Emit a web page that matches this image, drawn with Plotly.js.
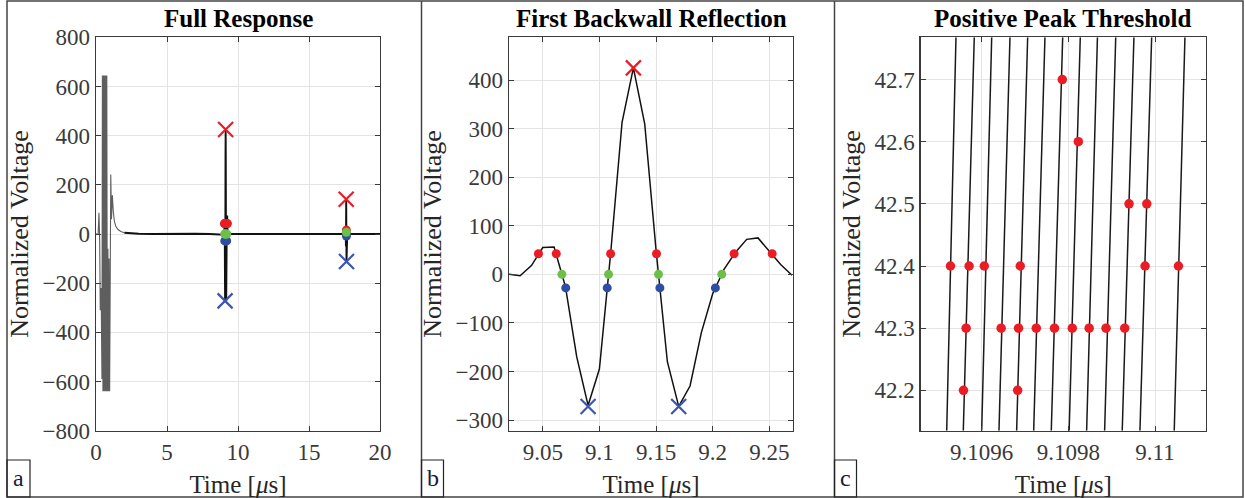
<!DOCTYPE html>
<html><head><meta charset="utf-8">
<script src="https://cdn.plot.ly/plotly-3.0.1.min.js"></script>
<style>html,body{margin:0;padding:0;background:#fff}#chart{width:1245px;height:498px}</style>
</head><body><div id="chart"></div>
<script>
// ================= DATA =================
// Panel a – full response (time in µs, normalized voltage)
const burstTime = [0, 0.15, 0.21, 0.26, 0.3, 0.36, 0.42, 0.45, 0.49, 0.53, 0.57, 0.61, 0.65, 0.69, 0.73, 0.76, 0.8, 0.84, 0.88, 0.92, 0.96, 1.0, 1.04, 1.09, 1.15, 1.22, 1.3, 1.4, 1.55, 1.75, 2.0];
const burstVolt = [0, 0, 86, -30, -310, -220, -590, 645, -640, 645, -640, 645, -640, 645, -640, 645, -640, -60, -640, -100, -640, 10, 242, 60, 158, 90, 50, 30, 18, 10, 5];
const baseline1Time = [2.0, 2.3, 3, 4, 5, 6, 7, 8, 9.02];
const baseline1Volt = [5, 3, 1, 0, 1, 0, 1, 0, 0];
const baseline2Time = [9.27, 9.4, 10, 12, 14, 16, 17.55];
const baseline2Volt = [-2, 0, 0, 0, 0, 0, 0];
const echo2Time = [17.55, 17.58, 17.6, 17.62, 17.64, 17.66, 17.68, 17.7, 17.72, 17.75];
const echo2Volt = [0, 20, -50, 141, -112, 60, -30, 12, -3, 0];
const tailTime = [17.75, 18, 19, 20];
const tailVolt = [0, 0, 0, 0];
// second echo feature points (panel a)
const echo2PeakTime = [17.62], echo2PeakVolt = [141];
const echo2TroughTime = [17.64], echo2TroughVolt = [-112];
const echo2PosThrTime = [17.63], echo2PosThrVolt = [16];
const echo2ZeroTime = [17.63], echo2ZeroVolt = [7];
const echo2NegThrTime = [17.635], echo2NegThrVolt = [-8];

// Panel b – first backwall reflection
const echo1Time = [9.02, 9.03, 9.04, 9.05, 9.06, 9.07, 9.08, 9.09, 9.10, 9.11, 9.12, 9.13, 9.14, 9.15, 9.16, 9.17, 9.18, 9.19, 9.20, 9.21, 9.22, 9.23, 9.24, 9.25, 9.26, 9.27];
const echo1Volt = [0, -3, 18, 55, 56, -25, -170, -270, -195, 45, 313, 425, 310, 50, -180, -272, -230, -120, -40, 10, 45, 72, 75, 48, 20, -2];
const posPeakTime = [9.13], posPeakVolt = [425];
const negPeakTime = [9.09, 9.17], negPeakVolt = [-272, -272];
const posThrTime = [9.0462, 9.0619, 9.1099, 9.1504, 9.2189, 9.2525];
const posThrVolt = [42.4, 42.4, 42.4, 42.4, 42.4, 42.4];
const zeroCrossTime = [9.0669, 9.1081, 9.1522, 9.2080];
const zeroCrossVolt = [0, 0, 0, 0];
const negThrTime = [9.0703, 9.1069, 9.1534, 9.2024];
const negThrVolt = [-28, -28, -28, -28];

// Panel c – positive peak threshold (many rising edges)
const edgeTimeLow  = [9.1095193, 9.1095576, 9.1096, 9.1096399, 9.1096807, 9.10972, 9.1097606, 9.1098018, 9.1098422, 9.1098837, 9.1099243, 9.1099652, 9.1100443];
const edgeTimeHigh = [9.1095407, 9.1095829, 9.1096231, 9.1096653, 9.1097061, 9.109746, 9.1097869, 9.1098275, 9.1098671, 9.1099093, 9.1099513, 9.1099922, 9.110069];
const edgeVoltLow = 42.135, edgeVoltHigh = 42.768;
const thrHitTime = [9.109786, 9.109823, 9.109940, 9.109981,
  9.109528, 9.109571, 9.109606, 9.109689, 9.109977, 9.110054,
  9.109564, 9.109645, 9.109685, 9.109726, 9.109768, 9.109809, 9.109848, 9.109887, 9.109930,
  9.109558, 9.109683];
const thrHitVolt = [42.7, 42.6, 42.5, 42.5,
  42.4, 42.4, 42.4, 42.4, 42.4, 42.4,
  42.3, 42.3, 42.3, 42.3, 42.3, 42.3, 42.3, 42.3, 42.3,
  42.2, 42.2];

// Tick labels
const ticksA_x = [0, 5, 10, 15, 20];
const ticksA_y = [-800, -600, -400, -200, 0, 200, 400, 600, 800];
const ticksB_x = [9.05, 9.1, 9.15, 9.2, 9.25];
const ticksB_xText = ['9.05', '9.1', '9.15', '9.2', '9.25'];
const ticksB_y = [-300, -200, -100, 0, 100, 200, 300, 400];
const ticksC_x = [9.1096, 9.1098, 9.11];
const ticksC_xText = ['9.1096', '9.1098', '9.11'];
const ticksC_y = [42.2, 42.3, 42.4, 42.5, 42.6, 42.7];
const panelTitles = ['Full Response', 'First Backwall Reflection', 'Positive Peak Threshold'];
const panelLetters = ['a', 'b', 'c'];

// ================= STYLE =================
const W = 1245, H = 498;
const px = v => v / W, py = v => 1 - v / H;
const FONT = 'Liberation Serif';
const RED = '#ec1c24', GREEN = '#6cc04a', BLUE = '#2f4ea3', BLUEX = '#3b56b3';

const mainTime = [].concat(baseline1Time, echo1Time, baseline2Time, echo2Time, tailTime);
const mainVolt = [].concat(baseline1Volt, echo1Volt, baseline2Volt, echo2Volt, tailVolt);

const edgeX = [], edgeY = [];
edgeTimeLow.forEach((t, i) => { edgeX.push(t, edgeTimeHigh[i], null); edgeY.push(edgeVoltLow, edgeVoltHigh, null); });

const dot = (x, y, c, xa, ya, s) => ({type: 'scatter', mode: 'markers', x, y, xaxis: xa, yaxis: ya,
  marker: {color: c, size: s || 9, symbol: 'circle'}, showlegend: false});
const cross = (x, y, c, xa, ya) => ({type: 'scatter', mode: 'markers', x, y, xaxis: xa, yaxis: ya,
  marker: {symbol: 'x-thin', size: 15, color: c, line: {color: c, width: 2.2}}, showlegend: false});

const traces = [
  {type: 'scatter', mode: 'lines', x: burstTime, y: burstVolt, xaxis: 'x', yaxis: 'y', line: {color: '#5e5e5e', width: 1.1}, showlegend: false},
  {type: 'scatter', mode: 'lines', x: mainTime, y: mainVolt, xaxis: 'x', yaxis: 'y', line: {color: '#111', width: 1.9}, showlegend: false},
  cross(posPeakTime.concat(echo2PeakTime), posPeakVolt.concat(echo2PeakVolt), RED, 'x', 'y'),
  cross(negPeakTime.slice(0, 1).concat(echo2TroughTime), negPeakVolt.slice(0, 1).concat(echo2TroughVolt), BLUEX, 'x', 'y'),
  dot(posThrTime.concat(echo2PosThrTime), posThrVolt.concat(echo2PosThrVolt), RED, 'x', 'y'),
  dot(negThrTime.concat(echo2NegThrTime), negThrVolt.concat(echo2NegThrVolt), BLUE, 'x', 'y'),
  dot(zeroCrossTime.concat(echo2ZeroTime), zeroCrossVolt.concat(echo2ZeroVolt), GREEN, 'x', 'y'),

  {type: 'scatter', mode: 'lines', x: echo1Time, y: echo1Volt, xaxis: 'x2', yaxis: 'y2', line: {color: '#111', width: 1.5}, showlegend: false},
  dot(posThrTime, posThrVolt, RED, 'x2', 'y2'),
  dot(zeroCrossTime, zeroCrossVolt, GREEN, 'x2', 'y2'),
  dot(negThrTime, negThrVolt, BLUE, 'x2', 'y2'),
  cross(posPeakTime, posPeakVolt, RED, 'x2', 'y2'),
  cross(negPeakTime, negPeakVolt, BLUEX, 'x2', 'y2'),

  {type: 'scatter', mode: 'lines', x: edgeX, y: edgeY, xaxis: 'x3', yaxis: 'y3', line: {color: '#1a1a1a', width: 1.5}, connectgaps: false, showlegend: false},
  dot(thrHitTime, thrHitVolt, RED, 'x3', 'y3', 9.5)
];

const axBase = {
  showline: true, linecolor: '#3a3a3a', linewidth: 1.3, mirror: 'ticks',
  ticks: 'inside', ticklen: 5, tickcolor: '#3a3a3a', tickwidth: 1,
  showgrid: true, gridcolor: '#e4e4e4', gridwidth: 1, zeroline: false,
  tickfont: {family: FONT, size: 23, color: '#3a3a3a'}, automargin: false
};
const xTitle = {text: 'Time [<i>μ</i>s]', font: {family: FONT, size: 25, color: '#262626'}, standoff: 12};
const yTitle = {text: 'Normalized Voltage', font: {family: FONT, size: 26, color: '#262626'}, standoff: 6};

const yDom = [py(430.7), py(37.3)];
const layout = {
  width: W, height: H, margin: {l: 0, r: 0, t: 0, b: 0},
  font: {family: FONT, size: 23, color: '#3a3a3a'},
  paper_bgcolor: '#fff', plot_bgcolor: '#fff', showlegend: false,
  xaxis: Object.assign({}, axBase, {domain: [px(96), px(380)], range: [0, 20], tickvals: ticksA_x, anchor: 'y', title: xTitle}),
  yaxis: Object.assign({}, axBase, {domain: yDom, range: [-800, 800], tickvals: ticksA_y, anchor: 'x', title: yTitle}),
  xaxis2: Object.assign({}, axBase, {domain: [px(509), px(793)], range: [9.0202, 9.2709], tickvals: ticksB_x, ticktext: ticksB_xText, anchor: 'y2', title: xTitle}),
  yaxis2: Object.assign({}, axBase, {domain: yDom, range: [-322, 488], tickvals: ticksB_y, anchor: 'x2', title: yTitle}),
  xaxis3: Object.assign({}, axBase, {domain: [px(920.7), px(1206)], range: [9.1094593, 9.1101176], tickvals: ticksC_x, ticktext: ticksC_xText, anchor: 'y3', title: xTitle}),
  yaxis3: Object.assign({}, axBase, {domain: yDom, range: [42.135, 42.768], tickvals: ticksC_y, anchor: 'x3', title: yTitle}),
  shapes: [
    {type: 'rect', xref: 'paper', yref: 'paper', x0: px(7), x1: px(1243), y0: py(497), y1: py(1), line: {color: '#444', width: 1.5}},
    {type: 'line', xref: 'paper', yref: 'paper', x0: px(421.5), x1: px(421.5), y0: py(497), y1: py(1), line: {color: '#444', width: 1.5}},
    {type: 'line', xref: 'paper', yref: 'paper', x0: px(834.5), x1: px(834.5), y0: py(497), y1: py(1), line: {color: '#444', width: 1.5}},
    {type: 'rect', xref: 'paper', yref: 'paper', x0: px(7), x1: px(30), y0: py(497), y1: py(460), line: {color: '#222', width: 1.2}},
    {type: 'rect', xref: 'paper', yref: 'paper', x0: px(421.5), x1: px(443.5), y0: py(497), y1: py(460), line: {color: '#222', width: 1.2}},
    {type: 'rect', xref: 'paper', yref: 'paper', x0: px(834.5), x1: px(856.5), y0: py(497), y1: py(460), line: {color: '#222', width: 1.2}}
  ],
  annotations: [
    {text: '<b>' + panelTitles[0] + '</b>', x: px(238), y: py(18), xref: 'paper', yref: 'paper', showarrow: false, xanchor: 'center', yanchor: 'middle', font: {family: FONT, size: 25, color: '#000'}},
    {text: '<b>' + panelTitles[1] + '</b>', x: px(651), y: py(18), xref: 'paper', yref: 'paper', showarrow: false, xanchor: 'center', yanchor: 'middle', font: {family: FONT, size: 25, color: '#000'}},
    {text: '<b>' + panelTitles[2] + '</b>', x: px(1063), y: py(18), xref: 'paper', yref: 'paper', showarrow: false, xanchor: 'center', yanchor: 'middle', font: {family: FONT, size: 25, color: '#000'}},
    {text: panelLetters[0], x: px(18.5), y: py(478), xref: 'paper', yref: 'paper', showarrow: false, xanchor: 'center', yanchor: 'middle', font: {family: FONT, size: 24, color: '#1a1a3a'}},
    {text: panelLetters[1], x: px(432.5), y: py(478), xref: 'paper', yref: 'paper', showarrow: false, xanchor: 'center', yanchor: 'middle', font: {family: FONT, size: 24, color: '#1a1a3a'}},
    {text: panelLetters[2], x: px(845.5), y: py(478), xref: 'paper', yref: 'paper', showarrow: false, xanchor: 'center', yanchor: 'middle', font: {family: FONT, size: 24, color: '#1a1a3a'}}
  ]
};

Plotly.newPlot('chart', traces, layout, {staticPlot: true, displayModeBar: false});
</script>
</body></html>
